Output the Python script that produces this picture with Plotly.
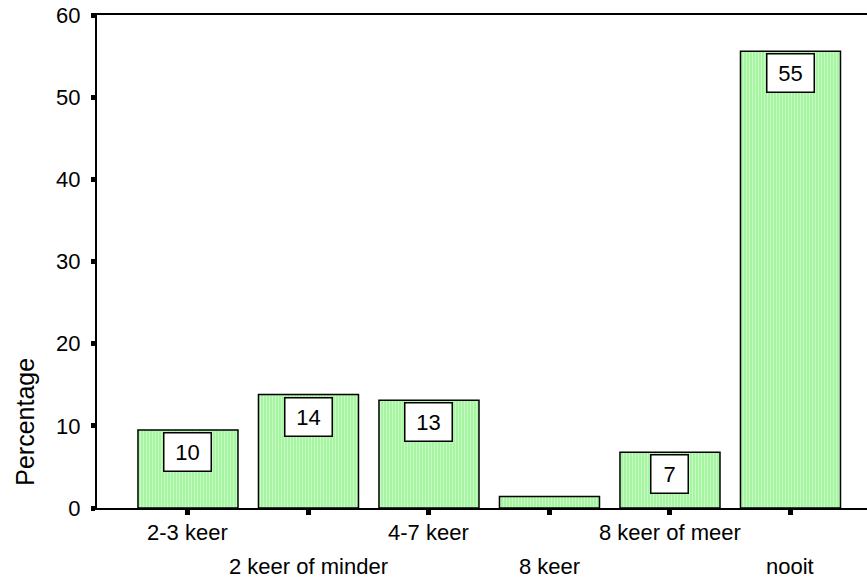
import plotly.graph_objects as go

categories = ["2-3 keer", "2 keer of minder", "4-7 keer", "8 keer", "8 keer of meer", "nooit"]
percentages = [9.5, 13.8, 13.1, 1.4, 6.8, 55.6]
bar_labels = ["10", "14", "13", "", "7", "55"]
y_ticks = [0, 10, 20, 30, 40, 50, 60]

FONT = "Liberation Sans, Arial, sans-serif"

fig = go.Figure()
fig.add_trace(go.Bar(
    x=categories,
    y=percentages,
    width=0.83,
    marker=dict(
        color="#a6f5a0",
        line=dict(color="black", width=1.5),
        pattern=dict(shape="|", fgcolor="#f0fff0", bgcolor="#a6f5a0", size=3, solidity=0.3),
    ),
    hoverinfo="skip",
))

annotations = []
for cat, val, lab in zip(categories, percentages, bar_labels):
    if lab:
        annotations.append(dict(
            x=cat, y=val, xref="x", yref="y", text=lab, showarrow=False,
            yanchor="top", yshift=-2,
            font=dict(family=FONT, size=22, color="black"),
            bgcolor="white", bordercolor="black", borderwidth=1.5,
            borderpad=7, width=len(lab) * 10 + 12, height=23,
        ))

for i, cat in enumerate(categories):
    annotations.append(dict(
        x=cat, y=0, xref="x", yref="y", text=cat, showarrow=False,
        yanchor="middle", yshift=-24 if i % 2 == 0 else -58,
        font=dict(family=FONT, size=22, color="black"),
    ))

annotations.append(dict(
    x=0, y=10.5, xref="paper", yref="y", text="Percentage",
    showarrow=False, textangle=-90, xanchor="center", yanchor="middle",
    xshift=-72,
    font=dict(family=FONT, size=25, color="black"),
))

fig.update_layout(
    width=867, height=578,
    margin=dict(l=97, r=0, t=15, b=70),
    plot_bgcolor="white", paper_bgcolor="white",
    showlegend=False,
    annotations=annotations,
    xaxis=dict(
        range=[-0.755, 5.635], showgrid=False, zeroline=False,
        showline=True, linecolor="black", linewidth=2, mirror=True,
        ticks="outside", ticklen=5, tickwidth=5, tickcolor="black",
        showticklabels=False, fixedrange=True,
    ),
    yaxis=dict(
        range=[0, 60], tickvals=y_ticks, showgrid=False, zeroline=False,
        showline=True, linecolor="black", linewidth=2,
        ticks="outside", ticklen=4, tickwidth=5, tickcolor="black",
        tickfont=dict(family=FONT, size=22, color="black"),
        ticklabelstandoff=6, ticklabeloverflow="allow", fixedrange=True,
    ),
)

fig.write_html(
    "out.html",
    config={"displayModeBar": False},
    post_script="document.body.style.margin='0';document.body.style.overflow='hidden';",
)
